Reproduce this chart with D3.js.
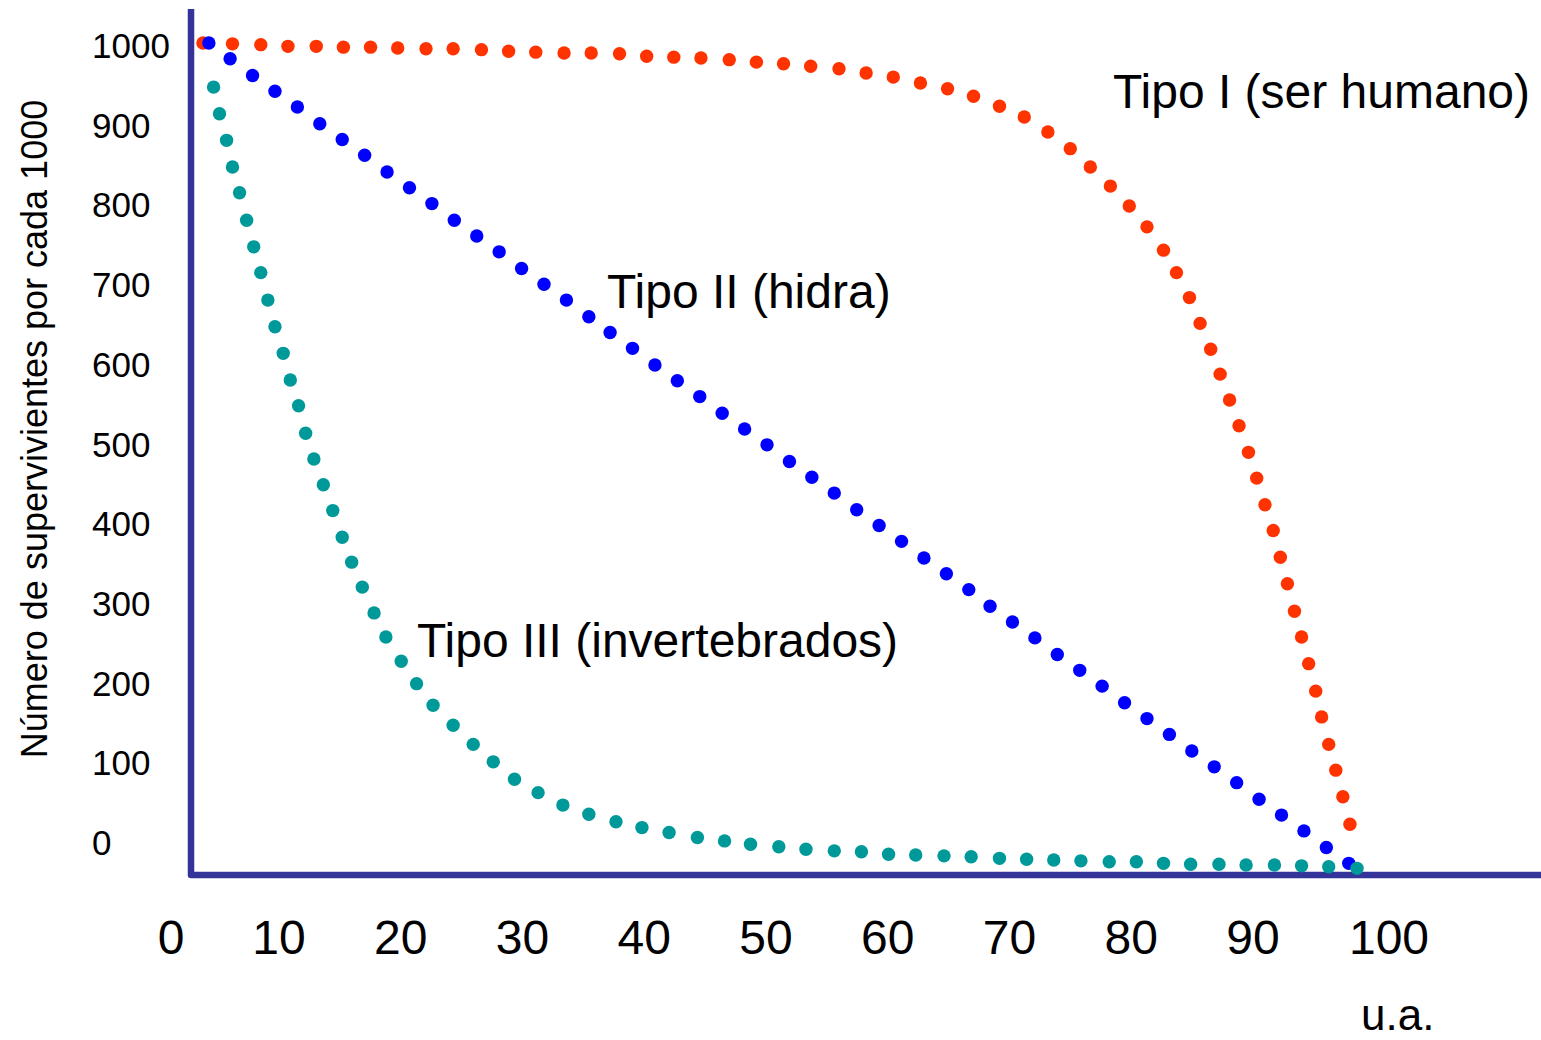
<!DOCTYPE html>
<html>
<head>
<meta charset="utf-8">
<script src="https://cdn.jsdelivr.net/npm/d3@7"></script>
<style>
  body { margin: 0; background: #fff; }
  text { font-family: "Liberation Sans", Arial, sans-serif; fill: #000; }
</style>
</head>
<body>
<div id="chart"></div>
<script>
// survival curves, age in u.a. (0-100) and survivors per 1000
const ageTipoI = [1.1, 3.6, 6.0, 8.3, 10.7, 13.0, 15.3, 17.6, 20.0, 22.3, 24.7, 27.0, 29.3, 31.7, 34.0,
  36.4, 38.7, 41.0, 43.3, 45.7, 48.0, 50.3, 52.6, 55.0, 57.3, 59.6, 61.9, 64.2, 66.4, 68.6,
  70.7, 72.7, 74.6, 76.3, 78.0, 79.6, 81.1, 82.5, 83.6, 84.7, 85.6, 86.5, 87.3, 88.1, 88.9,
  89.7, 90.4, 91.1, 91.8, 92.4, 93.0, 93.6, 94.2, 94.8, 95.4, 95.9, 96.5, 97.1, 97.7, 98.3];
const survTipoI = [1000, 999, 998, 996, 996, 995, 995, 994, 993, 993, 992, 990, 989, 988, 988,
  987, 984, 983, 982, 980, 977, 975, 972, 969, 964, 959, 952, 945, 936, 924,
  911, 893, 873, 851, 828, 804, 779, 751, 724, 694, 663, 632, 602, 571, 540,
  508, 477, 445, 414, 382, 350, 317, 286, 254, 221, 190, 157, 126, 94, 61];

const ageTipoII = [1.6, 3.4, 5.3, 7.2, 9.1, 11.0, 12.9, 14.8, 16.7, 18.6, 20.5, 22.4, 24.3, 26.2, 28.1,
  30.0, 31.9, 33.8, 35.6, 37.5, 39.4, 41.3, 43.2, 45.1, 47.0, 48.9, 50.8, 52.7, 54.6, 56.5,
  58.4, 60.3, 62.2, 64.1, 66.0, 67.8, 69.7, 71.6, 73.5, 75.4, 77.3, 79.2, 81.1, 83.0, 84.9,
  86.8, 88.7, 90.6, 92.5, 94.4, 96.3, 98.2];
const survTipoII = [1000, 981, 961, 942, 923, 903, 884, 865, 845, 826, 807, 787, 768, 749, 729,
  710, 691, 671, 652, 633, 613, 594, 575, 555, 536, 517, 497, 478, 459, 439,
  420, 401, 381, 362, 343, 323, 304, 285, 265, 246, 227, 207, 188, 169, 149,
  130, 111, 91, 72, 53, 33, 14];

const ageTipoIII = [2.0, 2.5, 3.1, 3.6, 4.2, 4.8, 5.4, 6.0, 6.6, 7.2, 7.9, 8.5, 9.2, 9.8, 10.5,
  11.3, 12.1, 12.9, 13.7, 14.6, 15.6, 16.6, 17.9, 19.2, 20.6, 22.3, 24.0, 25.7, 27.5, 29.5,
  31.6, 33.8, 36.1, 38.3, 40.6, 43.0, 45.3, 47.5, 49.9, 52.2, 54.6, 56.9, 59.2, 61.5, 63.9,
  66.2, 68.6, 70.9, 73.2, 75.5, 77.9, 80.2, 82.5, 84.8, 87.2, 89.5, 91.9, 94.2, 96.5, 98.9];
const survTipoIII = [947, 915, 883, 851, 820, 787, 755, 724, 691, 659, 627, 595, 564, 531, 500,
  469, 438, 406, 376, 346, 315, 286, 257, 230, 204, 180, 157, 136, 115, 99,
  84, 73, 64, 57, 51, 45, 41, 37, 34, 31, 29, 28, 25, 24, 23,
  22, 20, 19, 18, 17, 16, 16, 14, 13, 13, 12, 12, 11, 10, 8];

const seriesNames = ["Tipo I (ser humano)", "Tipo II (hidra)", "Tipo III (invertebrados)"];
const xTicks = [0, 10, 20, 30, 40, 50, 60, 70, 80, 90, 100];
const yTicks = [0, 100, 200, 300, 400, 500, 600, 700, 800, 900, 1000];

const width = 1541, height = 1040;

const svg = d3.select("#chart")
  .append("svg")
  .attr("width", width)
  .attr("height", height);

let x = d3.scaleLinear().domain([0, 100]).range([190, 1370]);
let y = d3.scaleLinear().domain([0, 1000]).range([875, 43]);

// tick labels sit a bit apart from the data area
let xLab = d3.scaleLinear().domain([0, 10, 90, 100]).range([171, 279, 1253, 1389]);
let yLab = d3.scaleLinear().domain([0, 1000]).range([855, 58]);

// axes
svg.append("path")
  .attr("d", `M${x(0) + 1},9 V${y(0)} H${width}`)
  .attr("fill", "none")
  .attr("stroke", "#333399")
  .attr("stroke-width", 6.5)
  .attr("stroke-linejoin", "round");

svg.append("g")
  .selectAll("text")
  .data(yTicks)
  .join("text")
  .attr("x", 92)
  .attr("y", d => yLab(d))
  .attr("font-size", 35)
  .text(d => d);

svg.append("g")
  .selectAll("text")
  .data(xTicks)
  .join("text")
  .attr("x", d => xLab(d))
  .attr("y", 954)
  .attr("text-anchor", "middle")
  .attr("font-size", 48)
  .text(d => d);

svg.append("text")
  .attr("x", 1361)
  .attr("y", 1030)
  .attr("font-size", 44)
  .text("u.a.");

svg.append("text")
  .attr("transform", "translate(47,429) rotate(-90)")
  .attr("text-anchor", "middle")
  .attr("font-size", 36)
  .text("Número de supervivientes por cada 1000");

// dotted curves
const series = [
  { ages: ageTipoI, surv: survTipoI, color: "#ff3300" },
  { ages: ageTipoII, surv: survTipoII, color: "#0000ff" },
  { ages: ageTipoIII, surv: survTipoIII, color: "#009999" }
];

for (let s of series) {
  svg.append("g")
    .attr("fill", s.color)
    .selectAll("circle")
    .data(d3.zip(s.ages, s.surv))
    .join("circle")
    .attr("cx", d => x(d[0]))
    .attr("cy", d => y(d[1]))
    .attr("r", 6.7);
}

// curve labels
const labelPos = [[1113, 108], [607, 308], [417, 657]];
svg.append("g")
  .selectAll("text")
  .data(seriesNames)
  .join("text")
  .attr("x", (d, i) => labelPos[i][0])
  .attr("y", (d, i) => labelPos[i][1])
  .attr("font-size", 48)
  .text(d => d);
</script>
</body>
</html>
